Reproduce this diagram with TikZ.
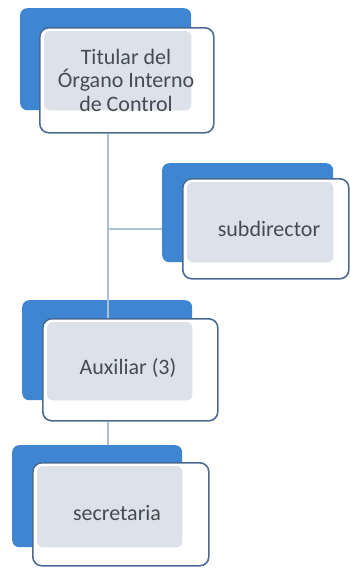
\documentclass[tikz,border=0pt]{standalone}
\usepackage{fontspec}
\setmainfont{Carlito}
\usepackage{tikz}
\usetikzlibrary{calc}
\definecolor{boxblue}{HTML}{3F86D2}
\definecolor{edgeblue}{HTML}{4A6C94}
\definecolor{innergray}{HTML}{DDE2EA}
\definecolor{linkblue}{HTML}{A9C3D6}
\definecolor{textgray}{HTML}{474A50}
\tikzset{
    backbox/.style={fill=boxblue, rounded corners=7pt, inner sep=0pt, anchor=north west},
    frontbox/.style={draw=edgeblue, line width=1.6pt, fill=white, rounded corners=9pt, inner sep=0pt, anchor=north west},
    shade/.style={fill=innergray, rounded corners=6pt},
    caption/.style={text=textgray, align=center, font=\fontsize{22}{23.5}\selectfont},
    link/.style={draw=linkblue, line width=1.8pt}
}
\begin{document}
\begin{tikzpicture}[x=1pt,y=-1pt]
    \useasboundingbox (0,0) rectangle (350,568);
    \coordinate (stem) at (108,0);
    % back plates
    \node[backbox, minimum width=171pt, minimum height=102pt] (topB) at (20,8) {};
    \node[backbox, minimum width=171pt, minimum height=99pt] (subB) at (162,163) {};
    \node[backbox, minimum width=170pt, minimum height=100pt] (auxB) at (22,300) {};
    \node[backbox, minimum width=170pt, minimum height=102pt] (secB) at (12,445) {};
    % front cards
    \node[frontbox, minimum width=174pt, minimum height=105pt] (top) at (39,27) {};
    \node[frontbox, minimum width=166pt, minimum height=100pt] (sub) at (182,178) {};
    \node[frontbox, minimum width=175pt, minimum height=102pt] (aux) at (42,318) {};
    \node[frontbox, minimum width=176pt, minimum height=103pt] (sec) at (32,462) {};
    \fill[shade] ([shift={(5,4)}]top.north west) rectangle (topB.south east);
    \fill[shade] ([shift={(5,4)}]sub.north west) rectangle (subB.south east);
    \fill[shade] ([shift={(5,4)}]aux.north west) rectangle (auxB.south east);
    \fill[shade] ([shift={(5,4)}]sec.north west) rectangle (secB.south east);
    % connectors
    \draw[link] (top.south -| stem) -- (aux.north -| stem);
    \draw[link] (sub.west -| stem) -- (sub.west -| subB.west);
    \draw[link] (aux.south -| stem) -- (secB.north -| stem);
    % captions
    \node[caption] (topT) at (126,80) {Titular del\\Órgano Interno\\de Control};
    \node[caption] (subT) at (269,229) {subdirector};
    \node[caption] (auxT) at (128,368) {Auxiliar (3)};
    \node[caption] (secT) at (117,513) {secretaria};
\end{tikzpicture}
\end{document}
